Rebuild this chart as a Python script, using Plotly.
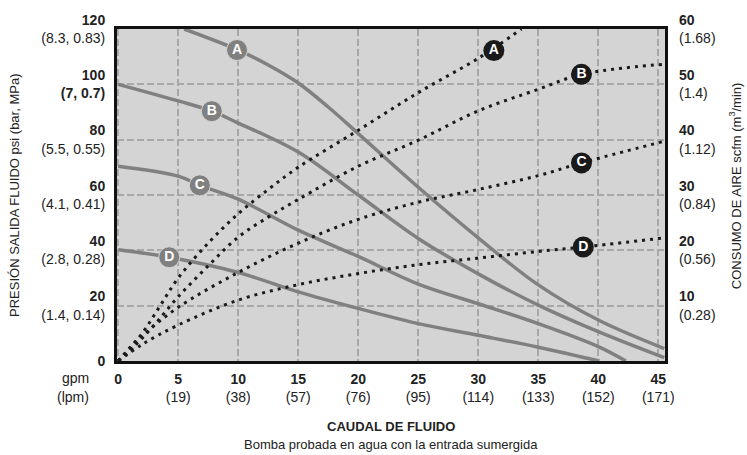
import plotly.graph_objects as go

# ---------------- data ----------------
# Fluid outlet pressure curves (psi) vs fluid flow (gpm)
pA_x = [5.5, 10, 12.5, 15, 17.5, 20, 25, 30, 35, 40, 45.5]
pA_y = [120, 112.4, 107, 100.5, 91.8, 82.2, 62.8, 44.5, 27.5, 14.8, 4.5]
pB_x = [0, 5, 7.8, 10, 15, 20, 25, 30, 35, 40, 45.5]
pB_y = [100, 94, 90.3, 86, 75.5, 60, 44.3, 31.5, 20.2, 10.6, 1.2]
pC_x = [0, 5, 6.8, 10, 15, 20, 25, 30, 35, 40, 42.3]
pC_y = [70.4, 66.8, 63.5, 58.5, 47.3, 37.8, 27.8, 20.7, 13.5, 5.2, 0]
pD_x = [0, 4.25, 10, 15, 20, 25, 30, 35, 40.1]
pD_y = [40.2, 37.5, 32, 25, 19, 13.5, 9.3, 5.0, 0]

# Air consumption curves (scfm) vs fluid flow (gpm)
aA_x = [0, 1, 2, 3.5, 5, 7.5, 10, 12.5, 15, 20, 25, 30, 33.6]
aA_y = [0, 2.5, 5, 10, 15, 21.3, 26.6, 31, 35, 41.7, 48.5, 54.7, 60]
aB_x = [0, 1.5, 3, 5, 7.5, 10, 12.5, 15, 20, 25, 30, 35, 38.6, 45.3]
aB_y = [0, 3, 6.5, 11.6, 17.2, 22.4, 26, 29.2, 35.2, 39.9, 45.2, 49.1, 51.8, 53.6]
aC_x = [0, 2, 5, 10, 15, 20, 25, 30, 35, 38.6, 45.3]
aC_y = [0, 4.5, 9.7, 16, 21.3, 25.6, 28.7, 31, 33.5, 35.8, 39.6]
aD_x = [0, 2, 5, 10, 15, 20, 25, 30, 35, 38.75, 45.3]
aD_y = [0, 3, 6.5, 11, 13.8, 15.8, 17.4, 18.6, 19.8, 20.6, 22.2]

# curve labels
letters = ["A", "B", "C", "D"]
p_lab_x = [9.9, 7.8, 6.8, 4.25]
p_lab_y = [112.4, 90.3, 63.5, 37.5]
a_lab_x = [31.3, 38.6, 38.6, 38.75]
a_lab_y = [56.1, 51.8, 35.8, 20.6]

# tick labels
x_vals = [0, 5, 10, 15, 20, 25, 30, 35, 40, 45]
x_lpm = ["", "19", "38", "57", "76", "95", "114", "133", "152", "171"]
y_vals = [0, 20, 40, 60, 80, 100, 120]
y_metric = ["", "(1.4, 0.14)", "(2.8, 0.28)", "(4.1, 0.41)", "(5.5, 0.55)", "(7, 0.7)", "(8.3, 0.83)"]
y2_vals = [10, 20, 30, 40, 50, 60]
y2_metric = ["(0.28)", "(0.56)", "(0.84)", "(1.12)", "(1.4)", "(1.68)"]

# ---------------- styling ----------------
FONT = "Liberation Sans, Arial, sans-serif"
GRAY = "#808080"
DARK = "#1a1a1a"

fig = go.Figure()

for xs, ys in [(pA_x, pA_y), (pB_x, pB_y), (pC_x, pC_y), (pD_x, pD_y)]:
    fig.add_trace(go.Scatter(x=xs, y=ys, mode="lines", yaxis="y",
                             line=dict(color=GRAY, width=3.5, shape="spline", smoothing=1.0),
                             hoverinfo="skip", showlegend=False))

for xs, ys in [(aA_x, aA_y), (aB_x, aB_y), (aC_x, aC_y), (aD_x, aD_y)]:
    fig.add_trace(go.Scatter(x=xs, y=ys, mode="lines", yaxis="y2",
                             line=dict(color=DARK, width=3, dash="3px,5px", shape="spline", smoothing=1.0),
                             hoverinfo="skip", showlegend=False))

fig.add_trace(go.Scatter(x=p_lab_x, y=p_lab_y, mode="markers+text", yaxis="y",
                         text=[f"<b>{l}</b>" for l in letters], textposition="middle center",
                         textfont=dict(color="white", size=14, family=FONT),
                         marker=dict(size=21, color=GRAY, line=dict(color="#d4d4d4", width=1)),
                         hoverinfo="skip", showlegend=False))
fig.add_trace(go.Scatter(x=a_lab_x, y=a_lab_y, mode="markers+text", yaxis="y2",
                         text=[f"<b>{l}</b>" for l in letters], textposition="middle center",
                         textfont=dict(color="white", size=14, family=FONT),
                         marker=dict(size=21, color=DARK),
                         hoverinfo="skip", showlegend=False))

x_text = [f"<b>{v}</b>" + (f"<br>({l})" if l else "") for v, l in zip(x_vals, x_lpm)]
y_text = []
for v, m in zip(y_vals, y_metric):
    if not m:
        y_text.append(f"<b>{v}</b>")
    elif v == 100:
        y_text.append(f"<b>{v}</b><br><b>{m}</b>")
    else:
        y_text.append(f"<b>{v}</b><br>{m}")
y2_text = [f"<b>{v}</b><br>{m}" for v, m in zip(y2_vals, y2_metric)]

grid = dict(showgrid=True, gridcolor="#a8a8a8", gridwidth=2, griddash="7px,3px")

fig.update_layout(
    width=747, height=455,
    margin=dict(l=117, r=82, t=23, b=94),
    paper_bgcolor="white", plot_bgcolor="#d4d4d4",
    font=dict(family=FONT, size=14, color="#222222"),
    xaxis=dict(range=[-0.1, 45.56], tickvals=x_vals, ticktext=x_text, ticks="",
               ticklabelstandoff=3, showline=True, linecolor="#111111", linewidth=3,
               mirror=True, zeroline=False, fixedrange=True, **grid),
    yaxis=dict(range=[0, 120], tickvals=y_vals, ticktext=y_text, ticks="",
               ticklabelstandoff=6, showline=True, linecolor="#111111", linewidth=3,
               mirror=True, zeroline=False, **grid),
    yaxis2=dict(range=[0, 60], overlaying="y", side="right", tickvals=y2_vals,
                ticktext=y2_text, ticks="", ticklabelstandoff=13, showgrid=False,
                zeroline=False, showline=False),
    showlegend=False,
)

annos = [
    dict(text="gpm", x=-0.047, y=-0.05, xanchor="right", yanchor="middle", font=dict(size=14)),
    dict(text="(lpm)", x=-0.047, y=-0.108, xanchor="right", yanchor="middle", font=dict(size=14)),
    dict(text="PRESIÓN SALIDA FLUIDO psi (bar, MPa)", x=-0.188, y=0.5, textangle=-90,
         xanchor="center", yanchor="middle", font=dict(size=13)),
    dict(text="CONSUMO DE AIRE scfm (m<sup>3</sup>/min)", x=1.128, y=0.527, textangle=-90,
         xanchor="center", yanchor="middle", font=dict(size=13)),
    dict(text="<b>CAUDAL DE FLUIDO</b>", x=0.5, y=-0.198, xanchor="center", yanchor="middle",
         font=dict(size=13)),
    dict(text="Bomba probada en agua con la entrada sumergida", x=0.5, y=-0.2515,
         xanchor="center", yanchor="middle", font=dict(size=13)),
]
for a in annos:
    a.update(xref="paper", yref="paper", showarrow=False)
    fig.add_annotation(**a)

fig.write_html("out.html", config={"displayModeBar": False},
               post_script="document.body.style.margin='0px';document.body.style.overflow='hidden';")
